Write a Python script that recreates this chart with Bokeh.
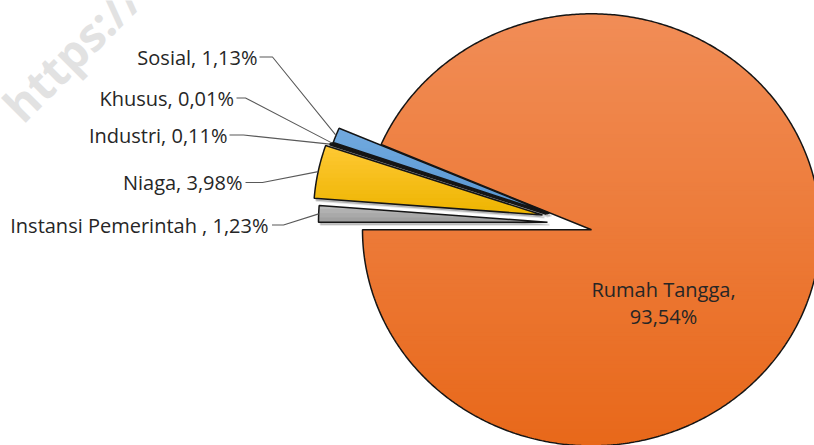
import math
from bokeh.plotting import figure
from bokeh.models import Range1d
from bokeh.core.properties import value
from bokeh.embed import file_html
from bokeh.resources import INLINE

# ---------------- data ----------------
categories = ["Instansi Pemerintah ", "Niaga", "Industri", "Khusus", "Sosial", "Rumah Tangga"]
shares = [1.23, 3.98, 0.11, 0.01, 1.13, 93.54]

# ---------------- styles ----------------
top_colors = ["#BEBEBE", "#FFC935", "#4F7FCF", "#7DBA55", "#72AADF", "#F18D57"]
bottom_colors = ["#9C9C9C", "#EDB400", "#3F66B0", "#5E9A38", "#5795D1", "#E8681A"]
explode = [(-44, 7.6), (-49, 14.8), (-45, 15.5), (-43.5, 16), (-42, 16.3), (0, 0)]  # px, y up

# label layout: (text right x, baseline y, leader start x, leader elbow x) in screen px
label_layout = [
    (268, 224.5, 271.5, 283),
    (242, 182.0, 245, 262),
    (227, 134.5, 229, 243),
    (233.5, 97.5, 236, 245),
    (257, 56.5, 259, 272),
]

CX, CY = 591.0, 229.3      # pie centre (screen px)
RX, RY = 229.0, 216.0      # pie radii (px)
START = 180.0              # first slice angle (deg, clockwise from here)
W, H = 814, 445


def sy(y):  # screen y -> data y
    return -y


def slice_polygon(a0, a1, dx, dy):
    vx, vy = CX + dx, sy(CY) + dy
    n = max(2, int(abs(a0 - a1) / 0.5) + 2)
    pts = [(vx, vy)]
    for i in range(n):
        a = math.radians(a0 + (a1 - a0) * i / (n - 1))
        pts.append((vx + RX * math.cos(a), vy + RY * math.sin(a)))
    return pts


def clip(poly, y, keep_above):
    out = []
    n = len(poly)
    for i in range(n):
        c = poly[i]
        p_ = poly[i - 1]
        cin = c[1] >= y if keep_above else c[1] <= y
        pin = p_[1] >= y if keep_above else p_[1] <= y
        if cin:
            if not pin:
                t = (y - p_[1]) / (c[1] - p_[1])
                out.append((p_[0] + t * (c[0] - p_[0]), y))
            out.append(c)
        elif pin:
            t = (y - p_[1]) / (c[1] - p_[1])
            out.append((p_[0] + t * (c[0] - p_[0]), y))
    return out


def mix(c1, c2, t):
    a = [int(c1[i:i + 2], 16) for i in (1, 3, 5)]
    b = [int(c2[i:i + 2], 16) for i in (1, 3, 5)]
    return "#%02x%02x%02x" % tuple(round(a[k] + (b[k] - a[k]) * t) for k in range(3))


p = figure(width=W, height=H, x_range=Range1d(0, W), y_range=Range1d(-H, 0),
           output_backend="svg", toolbar_location=None, min_border=0,
           x_axis_location=None, y_axis_location=None)
p.grid.visible = False
p.outline_line_color = None
p.background_fill_color = "white"

# watermark
p.text(x=[10], y=[sy(112)], text=["https://"], angle=[math.radians(45)],
       text_font=value("Open Sans"), text_font_size="46px", text_font_style="bold",
       text_color="#E2E2E2", text_baseline="alphabetic", text_align="left")

band_xs, band_ys, band_cols = [], [], []
out_xs, out_ys = [], []
sh_xs, sh_ys = [], []
leader_xs, leader_ys = [], []
label_x, label_y, label_t = [], [], []

cum = 0.0
for i, (cat, v) in enumerate(zip(categories, shares)):
    a0 = START - cum * 3.6
    a1 = START - (cum + v) * 3.6
    cum += v
    dx, dy = explode[i]
    poly = slice_polygon(a0, a1, dx, dy)
    ys_ = [q[1] for q in poly]
    ymin, ymax = min(ys_), max(ys_)
    nb = max(4, int((ymax - ymin) / 4))
    for b in range(nb):
        y1 = ymax - (ymax - ymin) * b / nb
        y0 = ymax - (ymax - ymin) * (b + 1) / nb
        piece = clip(clip(poly, y0 - 0.6, True), y1 + 0.6, False)
        if len(piece) >= 3:
            band_xs.append([q[0] for q in piece])
            band_ys.append([q[1] for q in piece])
            band_cols.append(mix(top_colors[i], bottom_colors[i], (b + 0.5) / nb))
    out_xs.append([q[0] for q in poly])
    out_ys.append([q[1] for q in poly])
    if i < len(label_layout):
        sh_xs.append([q[0] + 2.0 for q in poly])
        sh_ys.append([q[1] - 2.5 for q in poly])

    pct = ("%.2f" % v).replace(".", ",") + "%"
    if i < len(label_layout):
        tx, by, lx0, lx1 = label_layout[i]
        am = math.radians((a0 + a1) / 2)
        ex = CX + dx + RX * math.cos(am)
        ey = sy(CY) + dy + RY * math.sin(am)
        leader_xs.append([lx0, lx1, ex])
        leader_ys.append([sy(by), sy(by), ey])
        label_x.append(tx)
        label_y.append(sy(by))
        label_t.append(cat + ", " + pct)
    else:
        big_label = [cat + ",", pct]

p.patches(xs=sh_xs, ys=sh_ys, fill_color="#000000", fill_alpha=0.22, line_color="#000000",
          line_alpha=0.12, line_width=2)
p.patches(xs=band_xs, ys=band_ys, fill_color=band_cols, line_color=None)
p.patches(xs=out_xs, ys=out_ys, fill_color=None, line_color="#151515", line_width=1.5)
p.multi_line(xs=leader_xs, ys=leader_ys, line_color="#595959", line_width=1.1)

p.text(x=label_x, y=label_y, text=label_t, text_align="right", text_baseline="alphabetic",
       text_font=value("Open Sans"), text_font_size="20px", text_color="#262626")

p.text(x=[663, 663], y=[sy(288.5), sy(316)], text=big_label, text_align="center",
       text_baseline="alphabetic", text_font=value("Open Sans"), text_font_size="20px",
       text_color="#262626")

open("out.html", "w").write(file_html(p, INLINE))
